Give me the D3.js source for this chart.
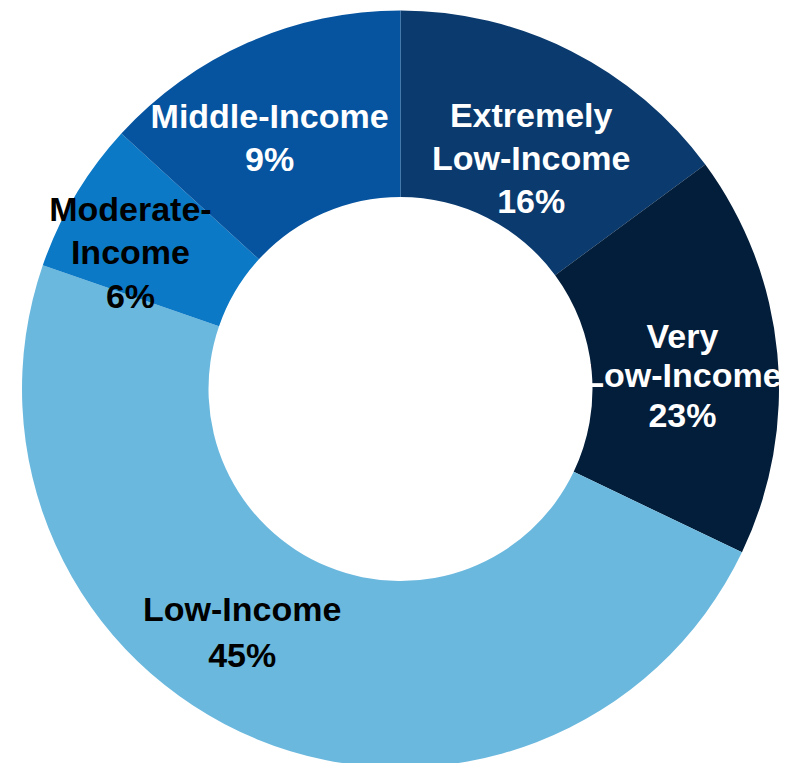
<!DOCTYPE html>
<html>
<head>
<meta charset="utf-8">
<script src="https://cdn.jsdelivr.net/npm/d3@7"></script>
<style>
  body { margin: 0; background: #fff; }
  svg { display: block; }
  .lbl { font-family: "Liberation Sans", Arial, sans-serif; font-weight: bold; font-size: 34px; }
</style>
</head>
<body>
<svg></svg>
<script>
var categories = ["Extremely Low-Income", "Very Low-Income", "Low-Income", "Moderate-Income", "Middle-Income"];
var shares = [14.9, 17.2, 48.2, 6.5, 13.2];
var pctLabels = ["16%", "23%", "45%", "6%", "9%"];
var labelLines = [
  ["Extremely", "Low-Income"],
  ["Very", "Low-Income"],
  ["Low-Income"],
  ["Moderate-", "Income"],
  ["Middle-Income"]
];
var colors = ["#0a3a6e", "#031e3a", "#6bb8de", "#0b79c6", "#0654a0"];
var textColors = ["#fff", "#fff", "#000", "#000", "#fff"];

var width = 787,
    height = 763,
    cx = 400.5,
    cy = 389,
    outerR = 378.5,
    innerR = 192;

// nudges from arc centroid to where the label block sits, plus line spacing
var labelNudge = [
  { dx: 2, dy: 24, lh: 43 },
  { dx: -2, dy: 13, lh: 39.5 },
  { dx: -50, dy: -21, lh: 46 },
  { dx: -25, dy: 9, lh: 43.5 },
  { dx: -16, dy: 10, lh: 43 }
];

var svg = d3.select("svg")
    .attr("width", width)
    .attr("height", height);

var g = svg.append("g")
    .attr("transform", "translate(" + cx + "," + cy + ")");

var pie = d3.pie()
    .sort(null)
    .value(function(d) { return d; });

var arc = d3.arc()
    .innerRadius(innerR)
    .outerRadius(outerR);

var arcs = pie(shares);

g.selectAll("path.slice")
    .data(arcs)
    .enter().append("path")
    .attr("class", "slice")
    .attr("d", arc)
    .attr("fill", function(d, i) { return colors[i]; });

var labels = g.selectAll("text.lbl")
    .data(arcs)
    .enter().append("text")
    .attr("class", "lbl")
    .attr("text-anchor", "middle")
    .attr("fill", function(d, i) { return textColors[i]; })
    .each(function(d, i) {
      var c = arc.centroid(d),
          nd = labelNudge[i],
          lines = labelLines[i].concat([pctLabels[i]]),
          x = c[0] + nd.dx,
          y0 = c[1] + nd.dy - (lines.length - 1) / 2 * nd.lh + 12;
      var t = d3.select(this);
      lines.forEach(function(s, k) {
        t.append("tspan")
          .attr("x", x)
          .attr("y", y0 + k * nd.lh)
          .text(s);
      });
    });
</script>
</body>
</html>
